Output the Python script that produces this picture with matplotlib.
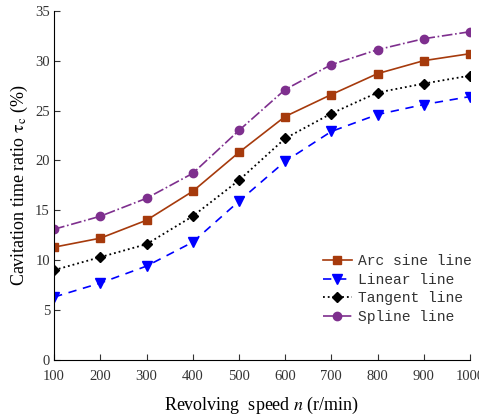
import matplotlib.pyplot as plt

speed = [100, 200, 300, 400, 500, 600, 700, 800, 900, 1000]
arc_sine = [11.3, 12.2, 14.0, 16.9, 20.8, 24.4, 26.6, 28.7, 30.0, 30.7]
linear = [6.3, 7.7, 9.4, 11.8, 15.9, 19.9, 22.9, 24.6, 25.6, 26.4]
tangent = [9.0, 10.3, 11.6, 14.4, 18.0, 22.2, 24.7, 26.8, 27.7, 28.5]
spline = [13.1, 14.4, 16.2, 18.7, 23.0, 27.1, 29.6, 31.1, 32.2, 32.9]

plt.rcParams['font.family'] = ['Liberation Serif', 'DejaVu Serif']
plt.rcParams['mathtext.fontset'] = 'stix'

fig = plt.figure(figsize=(4.79, 4.16), dpi=100)
ax = fig.add_axes([0.113, 0.135, 0.868, 0.839])

ax.plot(speed, arc_sine, '-s', color='#A63A0C', lw=1.2, ms=5.5, label='Arc sine line')
ax.plot(speed, linear, '--v', color='#0000FF', lw=1.2, ms=6.5, dashes=(5, 4), label='Linear line')
ax.plot(speed, tangent, ':D', color='black', lw=1.3, ms=5, label='Tangent line')
ax.plot(speed, spline, '-.o', color='#7E2F8E', lw=1.2, ms=6, label='Spline line')

ax.set_xlim(100, 1000)
ax.set_ylim(0, 35)
ax.set_xticks(speed)
ax.set_yticks(range(0, 36, 5))
ax.spines['top'].set_visible(False)
ax.spines['right'].set_visible(False)
ax.tick_params(direction='in', length=4, labelsize=10.5, colors='#333333', pad=3)
ax.tick_params(axis='x', pad=7)

ax.set_xlabel('Revolving  speed $n$ (r/min)', fontsize=13, labelpad=9)
ax.set_ylabel(r'Cavitation time ratio $\mathrm{\tau_c}$ (%)', fontsize=13, labelpad=4)

leg = ax.legend(loc='lower right', bbox_to_anchor=(1.035, 0.065), frameon=False,
                prop={'family': 'Liberation Mono', 'size': 10.5}, handlelength=2.0,
                labelspacing=0.32, handletextpad=0.4, labelcolor='#333333')

fig.savefig('out.png', dpi=100)
